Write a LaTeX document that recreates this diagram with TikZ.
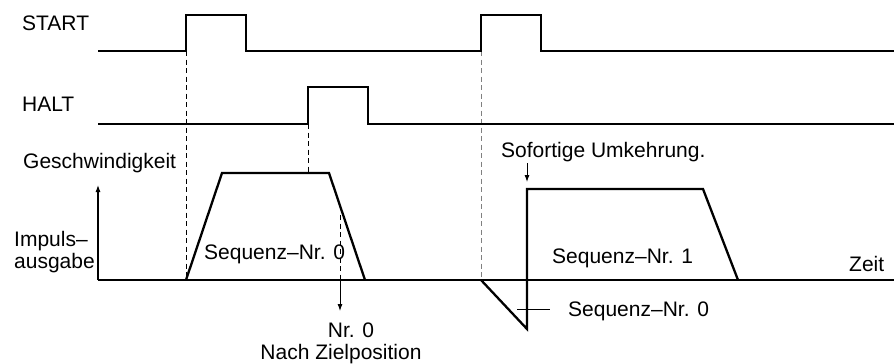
\documentclass[tikz,border=0pt]{standalone}
\usepackage{fontspec}
\setmainfont{Liberation Sans}
\usetikzlibrary{arrows.meta}
\begin{document}
\begin{tikzpicture}[x=1pt,y=-1pt,
  signal/.style={line width=2.3pt,line join=miter},
  axis/.style={line width=1.1pt},
  guide/.style={line width=0.8pt,dash pattern=on 5pt off 3.5pt},
  lbl/.style={anchor=base west,inner sep=0pt,font=\fontsize{21}{23}\selectfont},
  clbl/.style={anchor=base,inner sep=0pt,font=\fontsize{21}{23}\selectfont},
  tip/.style={-{Latex[length=7pt,width=5pt]}}]
\useasboundingbox (0,0) rectangle (894,364);
% labels
\node[lbl] (start) at (22,30) {START};
\node[lbl] (halt) at (22,111) {HALT};
\node[lbl] (geschw) at (23,168) {Geschwindigkeit};
\node[lbl] (impuls) at (14,246) {Impuls–};
\node[lbl] (ausgabe) at (14,268) {ausgabe};
\node[lbl] (seq0a) at (204,259) {Sequenz–Nr. 0};
\node[clbl] (nr0) at (351,337) {Nr. 0};
\node[clbl] (ziel) at (341,359) {Nach Zielposition};
\node[lbl] (sofort) at (501,157) {Sofortige Umkehrung.};
\node[lbl] (seq1) at (552,263) {Sequenz–Nr. 1};
\node[lbl] (zeit) at (849,271) {Zeit};
\node[lbl] (seq0b) at (568,316) {Sequenz–Nr. 0};
% coordinates
\coordinate (o) at (98,280);
\coordinate (ytop) at (98,185);
\coordinate (xend) at (894,280);
% guides
\draw[guide] (186,51) -- (186,280);
\draw[guide] (308,124) -- (308,173);
\draw[guide] (340,215) -- (340,280);
\draw[guide,gray] (481,51) -- (481,280);
% signals
\draw[signal] (98,51) -- (186,51) -- (186,15) -- (246,15) -- (246,51) -- (481,51) -- (481,15) -- (541,15) -- (541,51) -- (894,51);
\draw[signal] (98,124) -- (308,124) -- (308,87) -- (368,87) -- (368,124) -- (894,124);
% axes
\draw[axis,tip] (o) -- (ytop);
\draw[axis] (o) -- (xend);
% profiles
\draw[signal] (186,280) -- (222,173) -- (329,173) -- (365,280);
\draw[signal] (481,280) -- (527,329) -- (527,189) -- (703,189) -- (738,280);
% arrows
\coordinate (a1s) at (340,280);
\coordinate (a1e) at (340,311);
\draw[line width=0.9pt,tip] (a1s) -- (a1e);
\coordinate (a2s) at (527,163);
\coordinate (a2e) at (527,182);
\draw[line width=0.9pt,tip] (a2s) -- (a2e);
\coordinate (l1) at (517,309);
\coordinate (l2) at (550,309);
\draw[line width=0.9pt] (l1) -- (l2);
\end{tikzpicture}
\end{document}
